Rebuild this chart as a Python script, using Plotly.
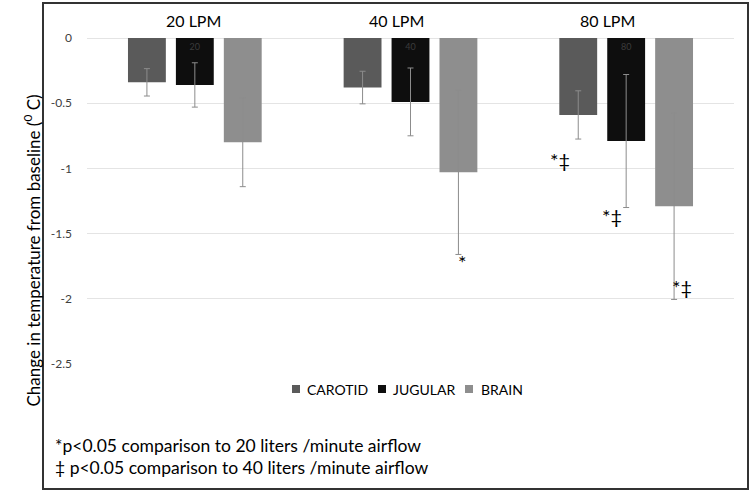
import plotly.graph_objects as go

# ---------------- data ----------------
categories = ["20 LPM", "40 LPM", "80 LPM"]
series_names = ["CAROTID", "JUGULAR", "BRAIN"]
carotid = [-0.34, -0.38, -0.59]
carotid_err = [0.105, 0.125, 0.185]
jugular = [-0.36, -0.49, -0.79]
jugular_err = [0.17, 0.26, 0.51]
brain = [-0.80, -1.03, -1.29]
brain_err = [0.34, 0.63, 0.715]
jugular_labels = ["20", "40", "80"]
y_tick_vals = [0, -0.5, -1, -1.5, -2, -2.5]
y_tick_text = ["0", "-0.5", "-1", "-1.5", "-2", "-2.5"]
# significance marks: (series index, category index, text)
sig_series = [2, 0, 1, 2]
sig_category = [1, 2, 2, 2]
sig_text = ["*", "*‡", "*‡", "*‡"]
footnotes = ["*p<0.05 comparison to 20 liters /minute airflow",
             "‡ p<0.05 comparison to 40 liters /minute airflow"]
y_title = "Change in temperature from baseline (<sup>0</sup> C)"

# ---------------- styles ----------------
colors = ["#5a5a5a", "#0e0e0e", "#8e8e8e"]
err_color = "#8c8c8c"
FONT = "Lato"
W, H = 750, 492
ML, MR, MT, MB = 87, 16, 38, 128
PW, PH = W - ML - MR, H - MT - MB
BARGAP = 1 / 3
BARGROUPGAP = 0.21


def px(x):
    return (x - ML) / PW


def py(y):
    return (H - MB - y) / PH


values = [carotid, jugular, brain]
errors = [carotid_err, jugular_err, brain_err]

fig = go.Figure()
for i, name in enumerate(series_names):
    kw = {}
    if name == "JUGULAR":
        kw = dict(text=jugular_labels, textposition="inside",
                  insidetextanchor="start", textangle=0,
                  textfont=dict(color="#3c3c3c", size=9, family=FONT))
    fig.add_trace(go.Bar(
        name=name, x=categories, y=values[i],
        marker=dict(color=colors[i], line=dict(width=0)),
        error_y=dict(type="data", array=errors[i], visible=True,
                     color=err_color, thickness=1, width=3),
        showlegend=False, **kw))

fig.update_layout(
    width=W, height=H,
    margin=dict(l=ML, r=MR, t=MT, b=MB),
    paper_bgcolor="white", plot_bgcolor="white",
    barmode="group", bargap=BARGAP, bargroupgap=BARGROUPGAP,
    font=dict(family=FONT, color="black"),
    xaxis=dict(showticklabels=False, showgrid=False, zeroline=False,
               showline=False, ticks=""),
    yaxis=dict(range=[-2.5, 0], tickvals=y_tick_vals, ticktext=y_tick_text,
               showgrid=True, gridcolor="#e4e4e4", gridwidth=1,
               zeroline=True, zerolinecolor="#e4e4e4", zerolinewidth=1,
               showline=False, ticks="", ticklabelstandoff=14,
               tickfont=dict(size=12, color="#404040", family=FONT)),
)

# outer frame
frame_line = dict(color="#333333", width=2)
fig.add_shape(type="rect", xref="paper", yref="paper",
              x0=px(43), x1=px(748), y0=py(489), y1=py(3),
              line=frame_line, fillcolor="rgba(0,0,0,0)")
fig.add_shape(type="line", xref="paper", yref="paper",
              x0=px(43), x1=px(748), y0=py(3), y1=py(3), line=frame_line)

# group labels above
label_shift = [-1, -14, -19]
for k, cat in enumerate(categories):
    fig.add_annotation(x=k, y=py(20), xref="x", yref="paper", text=cat,
                       showarrow=False, xshift=label_shift[k],
                       yanchor="middle",
                       font=dict(size=16, family=FONT, color="black"))

# significance marks
slot = (1 - BARGAP) / 3
sig_xshift = [4, -18, -14, 8]
sig_yshift = [-8, -21, -8, 12]
for j in range(len(sig_text)):
    s, c = sig_series[j], sig_category[j]
    yv = values[s][c] - errors[s][c]
    fig.add_annotation(x=c + (s - 1) * slot, y=yv, xref="x", yref="y",
                       text=sig_text[j], showarrow=False,
                       xshift=sig_xshift[j], yshift=sig_yshift[j],
                       font=dict(size=20, family=FONT, color="black"))

# y title
fig.add_annotation(x=px(18), y=py(251), xref="paper", yref="paper",
                   text=y_title, textangle=-90, showarrow=False,
                   font=dict(size=17, family=FONT, color="black"))

# legend (manual)
leg_sq_x = [296, 382, 469]
leg_txt_x = [305, 391, 479]
leg_y = 389
for i, name in enumerate(series_names):
    fig.add_shape(type="rect", xref="paper", yref="paper",
                  x0=px(leg_sq_x[i] - 4), x1=px(leg_sq_x[i] + 4),
                  y0=py(leg_y + 4), y1=py(leg_y - 4),
                  fillcolor=colors[i], line=dict(width=0))
    fig.add_annotation(x=px(leg_txt_x[i]), y=py(leg_y), xref="paper",
                       yref="paper", text=name, showarrow=False,
                       xanchor="left", yanchor="middle",
                       font=dict(size=14, family=FONT, color="black"))

# footnotes
foot_y = [446, 467]
for i, t in enumerate(footnotes):
    fig.add_annotation(x=px(53), y=py(foot_y[i]), xref="paper", yref="paper",
                       text=t, showarrow=False, xanchor="left",
                       yanchor="middle",
                       font=dict(size=17.5, family=FONT, color="black"))

fig.write_html("out.html", config={"displayModeBar": False},
               post_script="document.body.style.margin='0';"
                           "document.body.style.overflow='hidden';")
